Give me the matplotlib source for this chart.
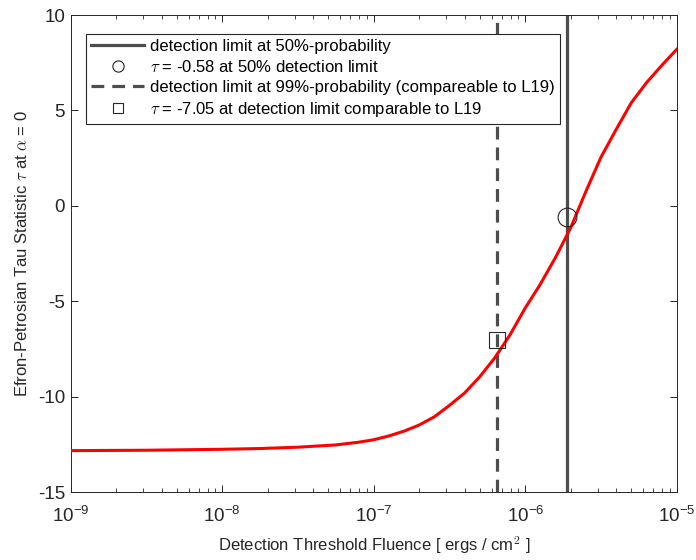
import numpy as np
import matplotlib
matplotlib.use("Agg")
import matplotlib.pyplot as plt
from matplotlib.ticker import LogLocator, NullFormatter

plt.rcParams["font.family"] = ["Liberation Sans", "DejaVu Sans"]
plt.rcParams["mathtext.fontset"] = "cm"
plt.rcParams["axes.unicode_minus"] = False

# tau statistic vs detection threshold fluence (log10 of ergs/cm^2)
log_fluence = [-9.0, -8.5, -8.0, -7.75, -7.5, -7.25, -7.1, -7.0, -6.9, -6.8,
               -6.7, -6.6, -6.5, -6.4, -6.3, -6.2, -6.1, -6.0, -5.9, -5.8,
               -5.7, -5.6, -5.5, -5.4, -5.3, -5.2, -5.1, -5.0]
tau = [-12.82, -12.80, -12.75, -12.71, -12.64, -12.52, -12.38, -12.25, -12.05, -11.80,
       -11.48, -11.05, -10.45, -9.80, -8.95, -7.95, -6.75, -5.35, -4.10, -2.70,
       -1.15, 0.75, 2.55, 4.0, 5.4, 6.45, 7.35, 8.2]

limit50 = 1.88e-6
limit99 = 6.55e-7
tau50 = -0.58
tau99 = -7.05

fluence = 10.0 ** np.array(log_fluence)

fig = plt.figure(figsize=(6.96, 5.6), dpi=100)
ax = fig.add_axes([0.1016, 0.121, 0.8707, 0.8522])

ax.plot(fluence, tau, color="red", lw=2.2, zorder=3)
ax.axvline(limit50, color="#4d4d4d", lw=2.3, label="detection limit at 50%-probability", zorder=2)
ax.plot(limit50, tau50, "o", ms=13.5, mfc="none", mec="#262626", mew=0.8, ls="none",
        label=r"$\tau$ = %.2f at 50%% detection limit" % tau50, zorder=4)
ax.axvline(limit99, color="#4d4d4d", lw=2.3, ls=(0, (4, 2.5)),
           label="detection limit at 99%-probability (compareable to L19)", zorder=2)
ax.plot(limit99, tau99, "s", ms=11, mfc="none", mec="#262626", mew=0.8, ls="none",
        label=r"$\tau$ = %.2f at detection limit comparable to L19" % tau99, zorder=4)

ax.set_xscale("log")
ax.set_xlim(1e-9, 1e-5)
ax.set_ylim(-15, 10)
ax.set_yticks([-15, -10, -5, 0, 5, 10])
ax.xaxis.set_major_locator(LogLocator(base=10, numticks=10))
ax.xaxis.set_minor_locator(LogLocator(base=10, subs=np.arange(2, 10), numticks=20))
ax.xaxis.set_minor_formatter(NullFormatter())

ax.tick_params(which="both", direction="in", top=True, right=True, colors="#262626",
               labelsize=13.5, labelcolor="#262626")
ax.tick_params(which="major", length=5, width=0.7)
ax.tick_params(which="minor", length=3, width=0.6)
ax.tick_params(axis="x", which="major", pad=10)
ax.tick_params(axis="y", which="major", pad=4)
for sp in ax.spines.values():
    sp.set_color("#262626")
    sp.set_linewidth(0.7)

ax.set_xlabel(r"Detection Threshold Fluence [ ergs / cm$^2$ ]", fontsize=12,
              color="#262626", labelpad=6)
ax.set_ylabel(r"Efron-Petrosian Tau Statistic $\tau$ at $\alpha$ = 0", fontsize=12,
              color="#262626", labelpad=6)

leg = ax.legend(loc="upper left", bbox_to_anchor=(0.025, 0.96), borderaxespad=0,
                fontsize=12, handlelength=3.2, handletextpad=0.35, labelspacing=0.3,
                markerscale=0.6, fancybox=False, framealpha=1, edgecolor="#262626",
                borderpad=0.3)
leg.get_frame().set_linewidth(0.8)

fig.savefig("out.png", dpi=100)
